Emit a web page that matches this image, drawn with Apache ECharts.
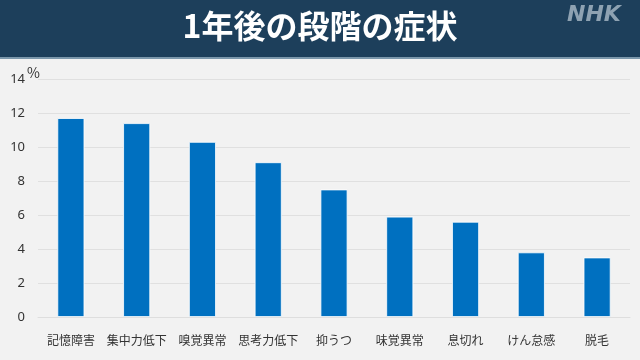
<!DOCTYPE html>
<html><head><meta charset="utf-8">
<script src="https://cdn.jsdelivr.net/npm/echarts@6/dist/echarts.min.js"></script>
<style>html,body{margin:0;padding:0;background:#f2f2f2;}#c{width:640px;height:360px;}</style>
</head><body><div id="c"></div>
<script>
const categories = ['記憶障害','集中力低下','嗅覚異常','思考力低下','抑うつ','味覚異常','息切れ','けん怠感','脱毛'];
const values = [11.7, 11.4, 10.3, 9.1, 7.5, 5.9, 5.6, 3.8, 3.5];
const titleText = '1年後の段階の症状';
const unitLabel = '%';

const chart = echarts.init(document.getElementById('c'));
chart.setOption({
  backgroundColor: '#f2f2f2',
  animation: false,
  graphic: [
    {type:'rect', left:0, top:0, shape:{width:640, height:57}, style:{fill:'#1d3f5b'}, z:0},
    {type:'rect', left:0, top:57, shape:{width:640, height:2}, style:{fill:'#7b97ab'}, z:0},
    {type:'text', left:'center', top:10, style:{text:titleText, fill:'#ffffff', font:'bold 32px "Noto Sans CJK JP"'}, z:10},
    {type:'text', left:567, top:4, style:{text:'NHK', fill:'#8ea2b2', font:'italic bold 22px "DejaVu Sans"'}, z:10},
    {type:'text', left:27, top:66, style:{text:unitLabel, fill:'#333', font:'14px "Noto Sans CJK JP"'}, z:10}
  ],
  grid: {left:38, right:10, top:79, bottom:43, containLabel:false},
  xAxis: {
    type:'category', data:categories,
    axisLine:{show:true, lineStyle:{color:'#dedede'}},
    axisTick:{show:false},
    axisLabel:{interval:0, color:'#333', fontSize:12, margin:17, fontFamily:'Noto Sans CJK JP'}
  },
  yAxis: {
    type:'value', min:0, max:14, interval:2,
    axisLine:{show:false}, axisTick:{show:false},
    splitLine:{lineStyle:{color:'#e0e0e0'}},
    axisLabel:{color:'#333', fontSize:13, margin:13, fontFamily:'Noto Sans'}
  },
  series: [{
    type:'bar', data:values, barWidth:27,
    itemStyle:{color:'#0070c0', borderColor:'#ffffff', borderWidth:0.8}
  }]
});
</script></body></html>
